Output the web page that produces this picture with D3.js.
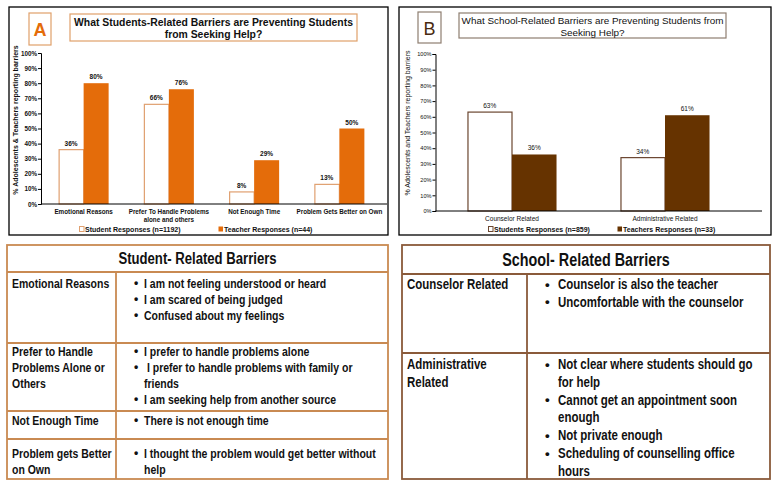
<!DOCTYPE html>
<html>
<head>
<meta charset="utf-8">
<script src="https://cdn.jsdelivr.net/npm/d3@7"></script>
<style>
  body { margin: 0; background: #fff; }
  svg text { white-space: pre; }
</style>
</head>
<body>
<script>
// chart A: student-related barriers
var catsA = [["Emotional Reasons"], ["Prefer To Handle Problems", "alone and others"], ["Not Enough Time"], ["Problem Gets Better on Own"]];
var studentA = [36, 66, 8, 13];
var teacherA = [80, 76, 29, 50];
var legendA = ["Student Responses (n=1192)", "Teacher Responses (n=44)"];

// chart B: school-related barriers
var catsB = [["Counselor Related"], ["Administrative Related"]];
var studentB = [63, 34];
var teacherB = [36, 61];
var legendB = ["Students Responses (n=859)", "Teachers Responses (n=33)"];

var yTicks = [0, 10, 20, 30, 40, 50, 60, 70, 80, 90, 100];

// tables
var rowsA = [
  [["Emotional Reasons"], [["I am not feeling understood or heard"], ["I am scared of being judged"], ["Confused about my feelings"]]],
  [["Prefer to Handle", "Problems Alone or", "Others"], [["I prefer to handle problems alone"], [" I prefer to handle problems with family or", "friends"], ["I am seeking help from another source"]]],
  [["Not Enough Time"], [["There is not enough time"]]],
  [["Problem gets Better", "on Own"], [["I thought the problem would get better without", "help"]]]
];
var rowsB = [
  [["Counselor Related"], [["Counselor is also the teacher"], ["Uncomfortable with the counselor"]]],
  [["Administrative", "Related"], [["Not clear where students should go", "for help"], ["Cannot get an appointment soon", "enough"], ["Not private enough"], ["Scheduling of counselling office", "hours"]]]
];

var svg = d3.select("body").append("svg").attr("width", 777).attr("height", 487);
var chartFont = "'Liberation Sans', Arial, sans-serif";
var narrow = 0.82; // squeeze Liberation Sans to look like Arial Narrow

function drawChart(c) {
  var g = svg.append("g");
  // outer frame
  g.append("rect").attr("x", c.frame[0]).attr("y", c.frame[1]).attr("width", c.frame[2]).attr("height", c.frame[3])
    .attr("fill", "none").attr("stroke", "#000").attr("stroke-width", 1.3);
  // letter box
  g.append("rect").attr("x", c.letterBox[0]).attr("y", c.letterBox[1]).attr("width", c.letterBox[2]).attr("height", c.letterBox[3])
    .attr("fill", "#fff").attr("stroke", c.boxStroke).attr("stroke-width", 1.2);
  g.append("text").attr("x", c.letterBox[0] + c.letterBox[2] / 2).attr("y", c.letterBox[1] + c.letterBox[3] / 2 + 1)
    .attr("text-anchor", "middle").attr("dominant-baseline", "central")
    .attr("font-family", chartFont).attr("font-size", 18).attr("font-weight", c.letterWeight)
    .attr("fill", c.letterColor).text(c.letter);
  // title box
  g.append("rect").attr("x", c.titleBox[0]).attr("y", c.titleBox[1]).attr("width", c.titleBox[2]).attr("height", c.titleBox[3])
    .attr("fill", "#fff").attr("stroke", c.boxStroke).attr("stroke-width", 1.2);
  c.title.forEach(function(t, i) {
    g.append("text").attr("x", c.titleBox[0] + c.titleBox[2] / 2).attr("y", c.titleY + i * 12)
      .attr("text-anchor", "middle").attr("dominant-baseline", "central")
      .attr("font-family", chartFont).attr("font-size", c.titleSize).attr("font-weight", c.titleWeight)
      .attr("fill", "#111").text(t);
  });

  var x0 = d3.scaleBand().domain(d3.range(c.cats.length)).range([c.xRange[0], c.xRange[1]])
    .paddingInner(c.pad).paddingOuter(c.pad / 2);
  var x1 = d3.scaleBand().domain(["s", "t"]).range([0, x0.bandwidth()]);
  var y = d3.scaleLinear().domain([0, 100]).range([c.yRange[1], c.yRange[0]]);

  // y axis
  var yAxis = d3.axisLeft(y).tickValues(yTicks).tickSize(3).tickFormat(function(d) { return d + "%"; });
  var ya = g.append("g").attr("transform", "translate(" + c.xRange[0] + ",0)").call(yAxis);
  ya.select(".domain").attr("stroke", "#000");
  ya.selectAll(".tick line").attr("stroke", "#000");
  ya.selectAll(".tick text").attr("font-family", chartFont).attr("font-size", c.tickSize)
    .attr("font-weight", c.labelWeight).attr("fill", "#111").attr("x", -4);

  // bars
  var groups = g.selectAll(".grp").data(c.cats).enter().append("g")
    .attr("transform", function(d, i) { return "translate(" + x0(i) + ",0)"; });
  groups.append("rect").attr("x", x1("s") + 0.5).attr("width", x1.bandwidth() - 0.5)
    .attr("y", function(d, i) { return y(c.student[i]); })
    .attr("height", function(d, i) { return y(0) - y(c.student[i]); })
    .attr("fill", "#fff").attr("stroke", c.outline).attr("stroke-width", 1.2);
  groups.append("rect").attr("x", x1("t")).attr("width", x1.bandwidth())
    .attr("y", function(d, i) { return y(c.teacher[i]); })
    .attr("height", function(d, i) { return y(0) - y(c.teacher[i]); })
    .attr("fill", c.fill);
  [["s", c.student], ["t", c.teacher]].forEach(function(s) {
    groups.append("text")
      .attr("x", x1(s[0]) + x1.bandwidth() / 2)
      .attr("y", function(d, i) { return y(s[1][i]) - 4; })
      .attr("text-anchor", "middle").attr("font-family", chartFont).attr("font-size", c.valSize)
      .attr("font-weight", c.labelWeight).attr("fill", "#111")
      .text(function(d, i) { return s[1][i] + "%"; });
  });

  // x axis line
  g.append("line").attr("x1", c.xRange[0]).attr("x2", c.axisEnd).attr("y1", y(0)).attr("y2", y(0))
    .attr("stroke", "#000").attr("stroke-width", 1);

  // category labels
  groups.each(function(d) {
    var gg = d3.select(this);
    d.forEach(function(line, k) {
      gg.append("text").attr("x", x0.bandwidth() / 2).attr("y", c.catY + k * 8)
        .attr("text-anchor", "middle").attr("dominant-baseline", "central")
        .attr("font-family", chartFont).attr("font-size", c.catSize)
        .attr("font-weight", c.labelWeight).attr("fill", "#111").text(line);
    });
  });

  // y title
  g.append("text").attr("transform", "translate(" + c.yTitle[0] + "," + c.yTitle[1] + ") rotate(-90)")
    .attr("text-anchor", "middle").attr("dominant-baseline", "central")
    .attr("font-family", chartFont).attr("font-size", 7).attr("font-weight", c.labelWeight)
    .attr("fill", "#111").text(c.yLabel);

  // legend
  c.legend.forEach(function(t, i) {
    var lx = c.legendX[i];
    g.append("rect").attr("x", lx + 0.5).attr("y", c.legendY - 2.5).attr("width", 4.5).attr("height", 5)
      .attr("fill", i === 0 ? "#fff" : c.fill).attr("stroke", i === 0 ? c.outline : "none").attr("stroke-width", 1);
    g.append("text").attr("x", lx + 6).attr("y", c.legendY).attr("dominant-baseline", "central")
      .attr("font-family", chartFont).attr("font-size", 7).attr("font-weight", "bold")
      .attr("fill", "#111").text(t);
  });
}

// text squeezed horizontally
function narrowText(g, x, y, size, str, anchor) {
  g.append("text").attr("transform", "translate(" + x + "," + y + ") scale(" + narrow + ",1)")
    .attr("text-anchor", anchor || "start").attr("dominant-baseline", "central")
    .attr("font-family", chartFont).attr("font-size", size).attr("font-weight", "bold")
    .attr("fill", "#111").text(str);
}

function drawTable(t) {
  var g = svg.append("g");
  var totalH = t.headerH + d3.sum(t.rowH);
  g.append("rect").attr("x", t.x).attr("y", t.y).attr("width", t.w).attr("height", totalH)
    .attr("fill", "#fff").attr("stroke", t.stroke).attr("stroke-width", 1.8);
  narrowText(g, t.x + t.w / 2, t.y + t.headerH / 2 + 0.5, t.headerSize, t.header, "middle");
  var top = t.y + t.headerH;
  g.append("line").attr("x1", t.x).attr("x2", t.x + t.w).attr("y1", top).attr("y2", top)
    .attr("stroke", t.stroke).attr("stroke-width", 1.8);
  g.append("line").attr("x1", t.split).attr("x2", t.split).attr("y1", top).attr("y2", t.y + totalH)
    .attr("stroke", t.stroke).attr("stroke-width", 1.8);
  t.rows.forEach(function(r, i) {
    var y0 = top + t.pads[i];
    r[0].forEach(function(line, k) {
      narrowText(g, t.labelX, y0 + k * t.lineH, t.fontSize, line);
    });
    var n = 0;
    r[1].forEach(function(b) {
      g.append("text").attr("x", t.bulletX).attr("y", y0 + n * t.lineH).attr("dominant-baseline", "central")
        .attr("font-family", chartFont).attr("font-size", t.fontSize * 0.95).attr("font-weight", "bold")
        .attr("fill", "#111").text("\u2022");
      b.forEach(function(line) {
        narrowText(g, t.textX, y0 + n * t.lineH, t.fontSize, line);
        n++;
      });
    });
    top += t.rowH[i];
    if (i < t.rows.length - 1) {
      g.append("line").attr("x1", t.x).attr("x2", t.x + t.w).attr("y1", top).attr("y2", top)
        .attr("stroke", t.stroke).attr("stroke-width", 1.8);
    }
  });
}

drawChart({
  frame: [9, 7, 379, 228], letterBox: [29, 13, 22, 32], titleBox: [70, 14, 287, 27],
  letter: "A", letterColor: "#E46C0A", letterWeight: "bold", boxStroke: "#DFA06A",
  title: ["What Students-Related Barriers are Preventing Students", "from Seeking Help?"],
  titleY: 22, titleSize: 10.4, titleWeight: "bold",
  cats: catsA, student: studentA, teacher: teacherA, legend: legendA,
  xRange: [41, 382], axisEnd: 387, yRange: [53, 204], pad: 0.4135,
  fill: "#E46C0A", outline: "#E0A070", labelWeight: "bold",
  tickSize: 6.3, valSize: 6.5, catSize: 6.3, catY: 211,
  yTitle: [15, 120], yLabel: "% Adolescents & Teachers reporting barriers",
  legendX: [79, 218], legendY: 229
});

drawChart({
  frame: [399, 7, 372, 228], letterBox: [418, 12, 23, 31], titleBox: [459, 13, 267, 25],
  letter: "B", letterColor: "#4A2A10", letterWeight: "normal", boxStroke: "#8E7E70",
  title: ["What School-Related Barriers are Preventing Students from", "Seeking Help?"],
  titleY: 20, titleSize: 9.9, titleWeight: "normal",
  cats: catsB, student: studentB, teacher: teacherB, legend: legendB,
  xRange: [435.5, 741.5], axisEnd: 762, yRange: [54, 211], pad: 0.418,
  fill: "#663300", outline: "#6B4630", labelWeight: "normal",
  tickSize: 5.6, valSize: 6.5, catSize: 6.5, catY: 218,
  yTitle: [407, 123], yLabel: "% Adolescents and Teachers reporting barriers",
  legendX: [488, 617], legendY: 229
});

drawTable({
  x: 7, y: 245, w: 381, split: 116, headerH: 27, rowH: [71, 68, 28, 40], pads: [11, 8, 9, 14],
  header: "Student- Related Barriers", headerSize: 16, fontSize: 12.8, lineH: 16,
  labelX: 12, bulletX: 134, textX: 144, stroke: "#C98A52", rows: rowsA
});

drawTable({
  x: 402, y: 245, w: 368, split: 527, headerH: 29, rowH: [79, 126], pads: [10, 11],
  header: "School- Related Barriers", headerSize: 17.5, fontSize: 14, lineH: 17.8,
  labelX: 407, bulletX: 545, textX: 558, stroke: "#8A5A3A", rows: rowsB
});
</script>
</body>
</html>
